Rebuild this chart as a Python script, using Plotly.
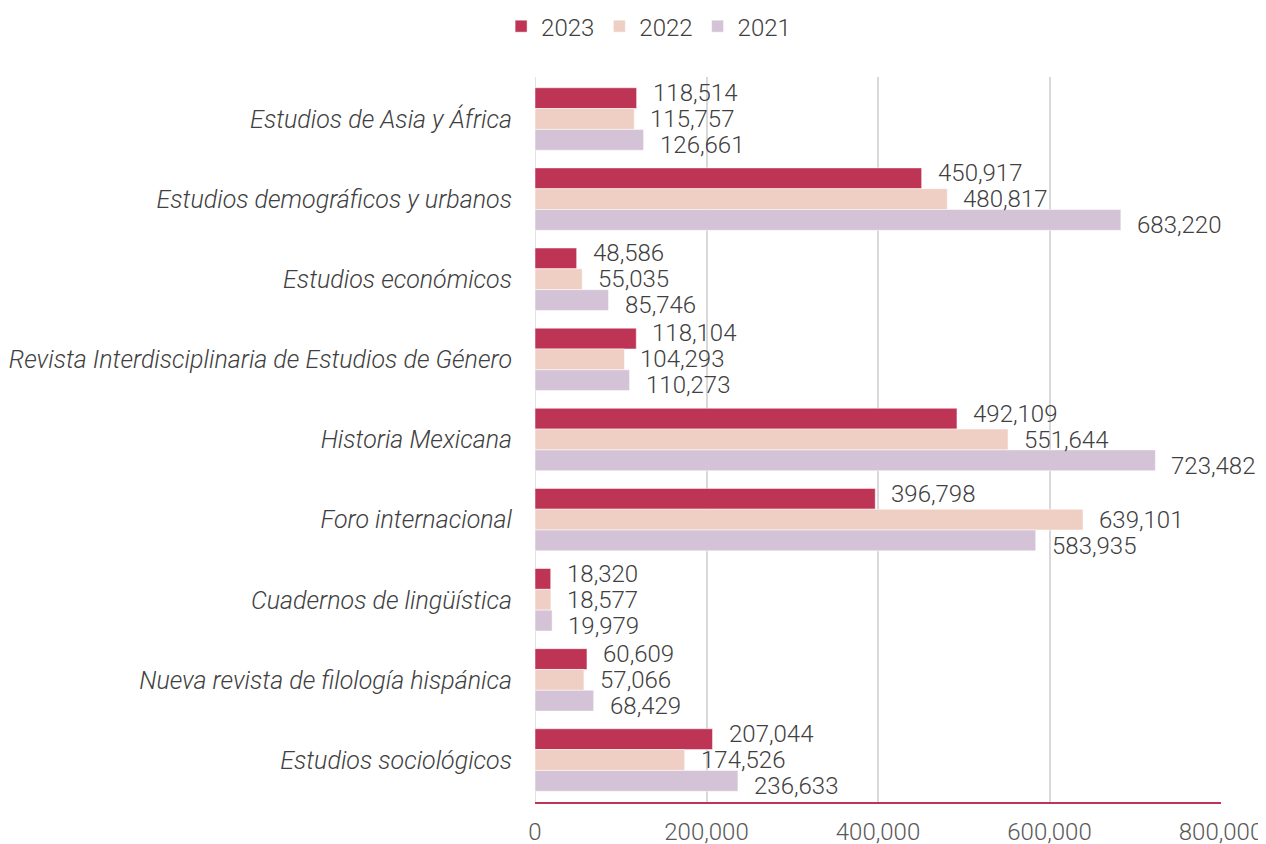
import plotly.graph_objects as go

categories = [
    "Estudios de Asia y África",
    "Estudios demográficos y urbanos",
    "Estudios económicos",
    "Revista Interdisciplinaria de Estudios de Género",
    "Historia Mexicana",
    "Foro internacional",
    "Cuadernos de lingüística",
    "Nueva revista de filología hispánica",
    "Estudios sociológicos",
]
v2023 = [118514, 450917, 48586, 118104, 492109, 396798, 18320, 60609, 207044]
v2022 = [115757, 480817, 55035, 104293, 551644, 639101, 18577, 57066, 174526]
v2021 = [126661, 683220, 85746, 110273, 723482, 583935, 19979, 68429, 236633]
series_names = ["2023", "2022", "2021"]
series_values = [v2023, v2022, v2021]
colors = ["#BE3455", "#EFCFC3", "#D4C2D6"]
x_ticks = [0, 200000, 400000, 600000, 800000]

FONT = "Roboto"
TXT = "#404040"
FS = 24

fig = go.Figure()
for name, vals, col in zip(series_names, series_values, colors):
    fig.add_trace(go.Bar(
        y=categories, x=vals, name=name, orientation="h",
        marker=dict(color=col, line=dict(color="white", width=0.5)),
        hoverinfo="x+name",
    ))

# value labels
yshifts = [26, 0, -26]
annotations = []
for vals, ys in zip(series_values, yshifts):
    for c, v in zip(categories, vals):
        annotations.append(dict(
            x=v, y=c, xref="x", yref="y", text=f"{v:,}",
            showarrow=False, xanchor="left", yanchor="middle",
            xshift=14, yshift=ys,
            font=dict(family=FONT, size=FS, color=TXT, weight=300),
        ))

fig.update_layout(
    width=1266, height=844,
    paper_bgcolor="white", plot_bgcolor="white",
    margin=dict(l=527, r=53, t=69, b=50, autoexpand=False),
    barmode="group", bargap=0.22, bargroupgap=0,
    font=dict(family=FONT, size=FS, color=TXT, weight=300),
    legend=dict(
        orientation="h", x=0.506, xanchor="center", xref="container",
        y=0.978, yanchor="middle", yref="container",
        font=dict(family=FONT, size=FS, color=TXT, weight=300),
        itemwidth=30, tracegroupgap=0,
    ),
    annotations=annotations,
    showlegend=True,
)
fig.update_xaxes(
    range=[0, 800000], tickvals=x_ticks,
    ticktext=[f"{t:,}" for t in x_ticks],
    showgrid=True, gridcolor="#D9D9D9", gridwidth=1.5,
    zeroline=False, automargin=False,
    showline=True, linecolor="#BE3455", linewidth=2,
    ticks="", ticklabelstandoff=7,
    tickfont=dict(family=FONT, size=FS, color="#595959", weight=300),
)
fig.update_yaxes(
    autorange="reversed", showgrid=False, zeroline=False, automargin=False,
    showline=False, ticks="", ticklabelstandoff=22,
    tickfont=dict(family=FONT, size=25, color=TXT, weight=300, style="italic"),
)
# vertical line at zero as gray gridline
fig.add_shape(type="line", xref="x", yref="paper", x0=0, x1=0, y0=0, y1=1,
              line=dict(color="#D9D9D9", width=1.5), layer="below")

fig.write_html("out.html")
